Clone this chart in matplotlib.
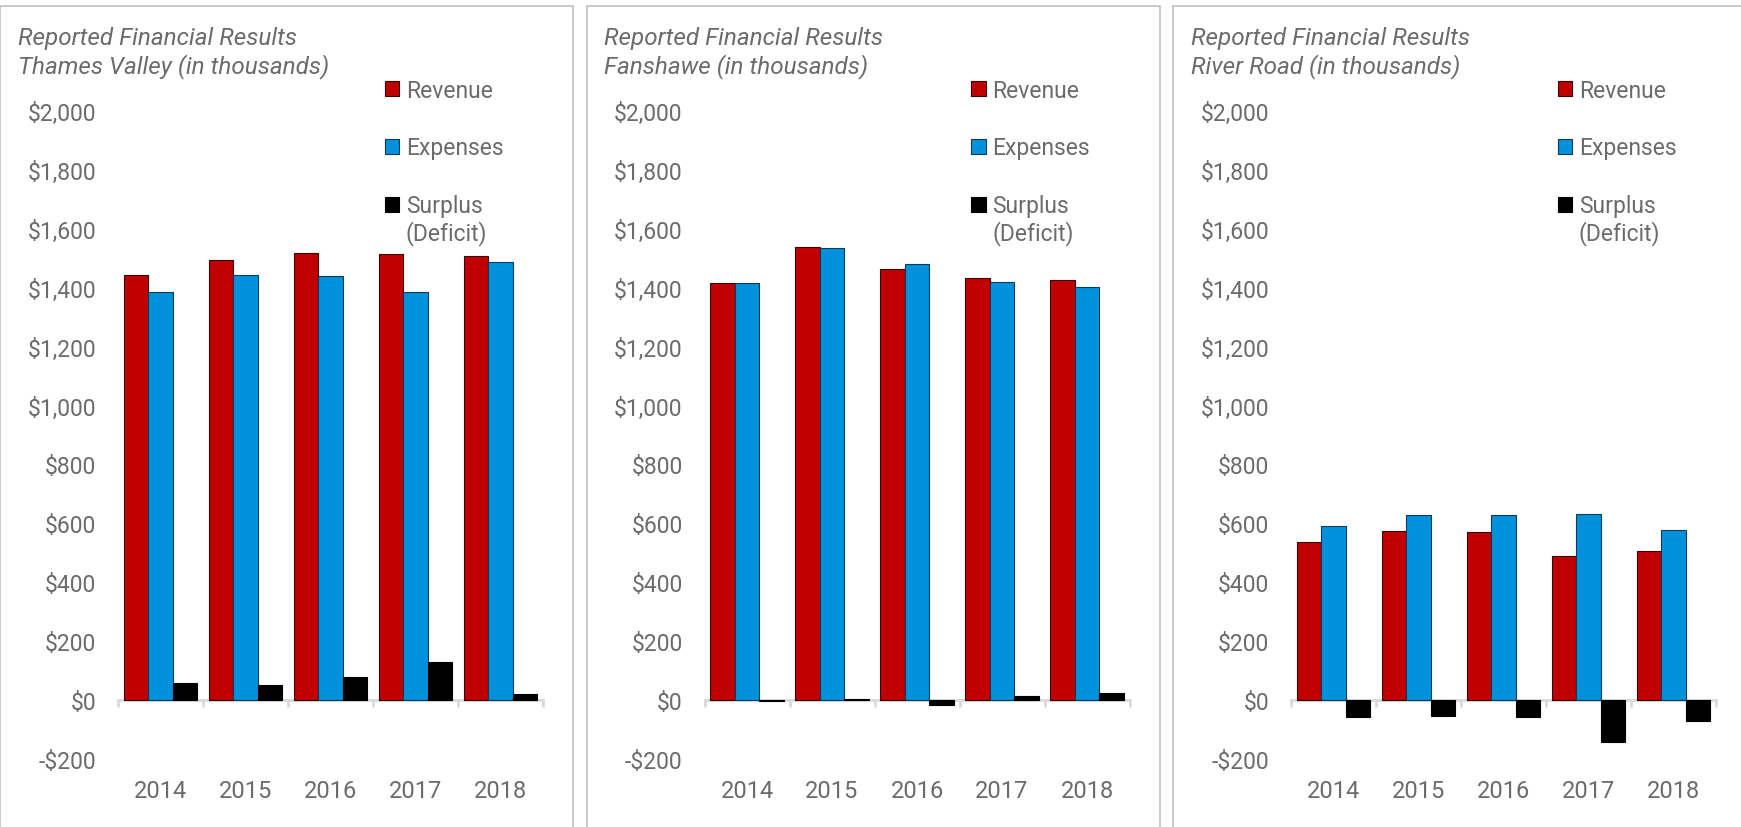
import numpy as np
import matplotlib
matplotlib.use('Agg')
import matplotlib.pyplot as plt
import matplotlib.ticker as mticker
from matplotlib.patches import Patch, Rectangle

plt.rcParams['font.family'] = ['Roboto', 'DejaVu Sans']

# ─── Data (in thousands) ──────────────────────────────────────────────────────
years = ['2014', '2015', '2016', '2017', '2018']

tv_revenue  = [1444, 1493, 1518, 1514, 1507]
tv_expenses = [1385, 1444, 1439, 1385, 1487]
tv_surplus  = [58, 50, 79, 129, 21]

fan_revenue  = [1415, 1538, 1463, 1433, 1427]
fan_expenses = [1417, 1534, 1481, 1420, 1403]
fan_surplus  = [-2, 4, -18, 14, 24]

rr_revenue  = [536, 573, 570, 490, 505]
rr_expenses = [590, 627, 627, 632, 576]
rr_surplus  = [-56, -55, -59, -143, -72]

panels = ['Thames Valley', 'Fanshawe', 'River Road']
series_names = ['Revenue', 'Expenses', 'Surplus (Deficit)']
panel_data = [
    (tv_revenue, tv_expenses, tv_surplus),
    (fan_revenue, fan_expenses, fan_surplus),
    (rr_revenue, rr_expenses, rr_surplus),
]

# ─── Style ────────────────────────────────────────────────────────────────────
RED, BLUE, BLACK = '#C00000', '#0091DA', '#000000'
EDGES = ['#3a0000', '#0b3a5a', '#000000']
TEXT = '#6b6b6b'
AXIS = '#d9d9d9'
BORDER = '#c4c4c4'
FS = 16.5

W, H = 1741, 828
fig = plt.figure(figsize=(W / 100, H / 100), dpi=100)

def fmt_dollar(v, pos=None):
    if v < 0:
        return f'-${-v:,.0f}'
    return f'${v:,.0f}'

panel_left = [0, 586.5, 1173]
ax_off, ax_w = 118, 425
ax_top, ax_bot = 112, 760
bar_w = 0.288
x = np.arange(len(years))

for i, name in enumerate(panels):
    px = panel_left[i]
    # panel frame
    fig.add_artist(Rectangle((px / W, -0.05), 573 / W, 1.05 - 7 / H,
                             transform=fig.transFigure, fill=False,
                             edgecolor=BORDER, linewidth=1.3))

    ax = fig.add_axes([(px + ax_off) / W, 1 - ax_bot / H, ax_w / W, (ax_bot - ax_top) / H])
    ax.patch.set_alpha(0)

    rev, exp, sur = panel_data[i]
    for k, (vals, col) in enumerate(zip((rev, exp, sur), (RED, BLUE, BLACK))):
        ax.bar(x + (k - 1) * bar_w, vals, width=bar_w, color=col,
               edgecolor=EDGES[k], linewidth=0.8, zorder=3)

    ax.set_xlim(-0.5, len(years) - 0.5)
    ax.set_ylim(-200, 2000)
    ax.yaxis.set_major_locator(mticker.MultipleLocator(200))
    ax.yaxis.set_major_formatter(mticker.FuncFormatter(fmt_dollar))
    ax.tick_params(axis='y', length=0, pad=15.8, labelsize=FS, labelcolor=TEXT)

    for s in ('top', 'right', 'left'):
        ax.spines[s].set_visible(False)
    ax.spines['bottom'].set_position(('data', 0))
    ax.spines['bottom'].set_color(AXIS)
    ax.spines['bottom'].set_linewidth(2)
    ax.spines['bottom'].set_zorder(2)

    ax.set_xticks(x)
    ax.set_xticklabels(years)
    ax.set_xticks(np.arange(-0.5, len(years)), minor=True)
    ax.tick_params(axis='x', which='major', length=0, pad=57, labelsize=17, labelcolor=TEXT)
    ax.tick_params(axis='x', which='minor', length=5, width=2, color=AXIS)

    # title
    fig.text((px + 18) / W, 1 - 27 / H,
             f'Reported Financial Results\n{name} (in thousands)',
             ha='left', va='top', style='italic', fontsize=17.5, color=TEXT,
             linespacing=1.2)

    # legend
    handles = [Patch(facecolor=c, edgecolor=e, linewidth=0.8)
               for c, e in zip((RED, BLUE, BLACK), EDGES)]
    labels = [series_names[0], series_names[1], series_names[2].split(' ')[0]]
    leg = ax.legend(handles, labels, loc='upper left', bbox_to_anchor=(0.628, 1.05),
                    frameon=False, borderpad=0, borderaxespad=0,
                    handlelength=0.62, handleheight=0.62, handletextpad=0.3,
                    labelspacing=1.52, fontsize=FS, labelcolor=TEXT)
    ax.annotate(series_names[2].split(' ')[1], xy=(0, 0.5),
                xycoords=leg.get_texts()[2], xytext=(0, -19.5),
                textcoords='offset points', va='center', ha='left',
                fontsize=FS, color=TEXT, zorder=10)

plt.savefig('out.png', dpi=100)
plt.close()
